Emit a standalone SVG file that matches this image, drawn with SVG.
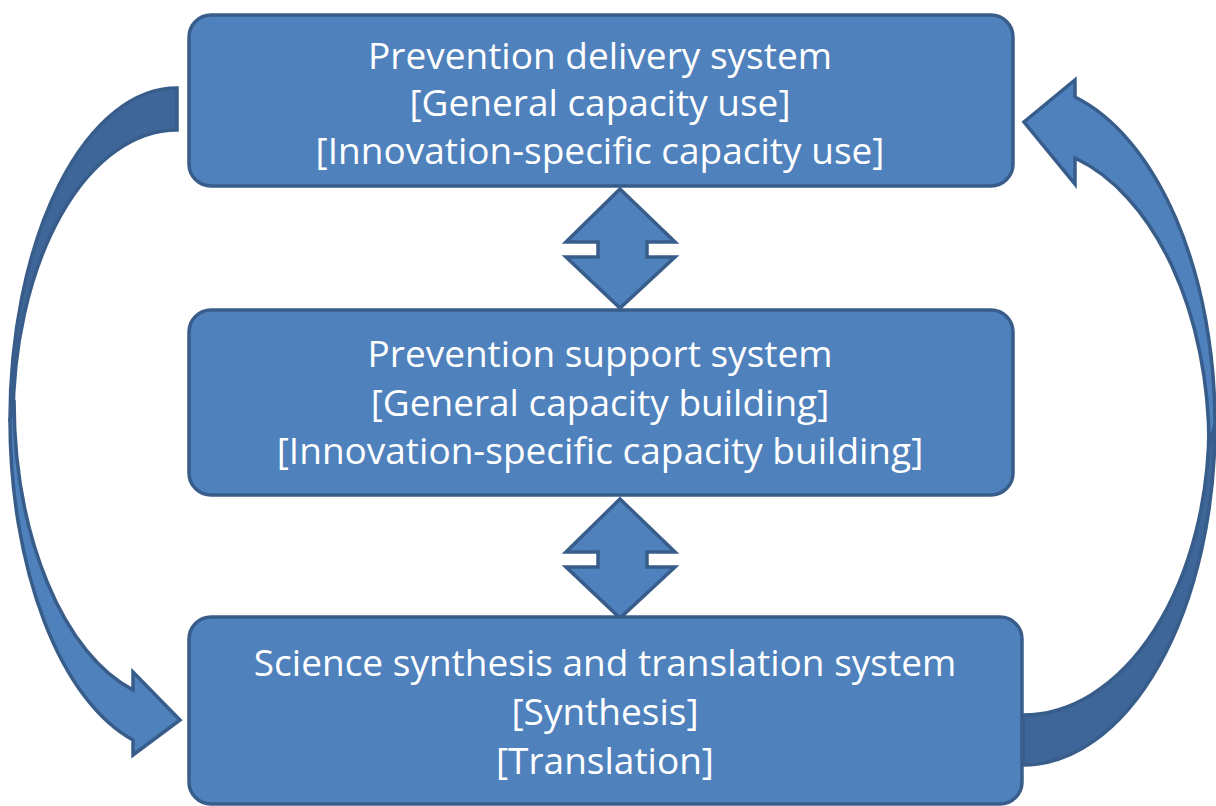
<svg xmlns="http://www.w3.org/2000/svg" width="1216" height="806" viewBox="0 0 1216 806">
<style>
.box{fill:#4f81bd;stroke:#385d8a;stroke-width:3.5}
.arr{fill:#4f81bd;stroke:#385d8a;stroke-width:3.5;stroke-linejoin:miter}
.back{fill:#3e6698;stroke:#385d8a;stroke-width:3.5}
.t{font-family:"Open Sans","Liberation Sans",sans-serif;font-size:37px;fill:#ffffff;text-anchor:middle;font-variant-ligatures:none}
</style>
<rect width="1216" height="806" fill="#ffffff"/>
<g id="connectors">
  <g id="left-curved-arrow">
    <path class="back" d="M177,88 A167,332 0 0 0 10,420 L13,420 A164,290 0 0 1 177,130 Z"/>
    <path class="arr" d="M10,420 A167,332 0 0 0 133,740 L133,755 L180,720 L133,672 L133,690 A163,301 0 0 1 14,400 Z"/>
  </g>
  <g id="right-curved-arrow">
    <path class="back" d="M1023,765 A192,340 0 0 0 1215,425 L1209,425 A186,290 0 0 1 1023,715 Z"/>
    <path class="arr" d="M1215,425 A192,340 0 0 0 1075,97 L1075,80 L1024,122 L1075,184 L1075,158 A186,299 0 0 1 1209,445 Z"/>
  </g>
  <path id="dbl-arrow-1" class="arr" d="M620,189 L675,242 L647,242 L647,257 L675,257 L620,308 L566,257 L598,257 L598,242 L566,242 Z"/>
  <path id="dbl-arrow-2" class="arr" d="M620,499 L675,552 L647,552 L647,567 L675,567 L620,618 L566,567 L598,567 L598,552 L566,552 Z"/>
</g>
<g id="node-delivery">
  <rect class="box" x="189" y="15" width="824" height="171" rx="22"/>
  <text class="t" x="600" y="69">Prevention delivery system</text>
  <text class="t" x="600" y="116">[General capacity use]</text>
  <text class="t" x="600" y="164">[Innovation-specific capacity use]</text>
</g>
<g id="node-support">
  <rect class="box" x="189" y="310" width="824" height="185" rx="22"/>
  <text class="t" x="600" y="367">Prevention support system</text>
  <text class="t" x="600" y="416">[General capacity building]</text>
  <text class="t" x="600" y="464">[Innovation-specific capacity building]</text>
</g>
<g id="node-science">
  <rect class="box" x="189" y="617" width="833" height="187" rx="22"/>
  <text class="t" x="605" y="676">Science synthesis and translation system</text>
  <text class="t" x="605" y="725">[Synthesis]</text>
  <text class="t" x="605" y="774">[Translation]</text>
</g>
</svg>
